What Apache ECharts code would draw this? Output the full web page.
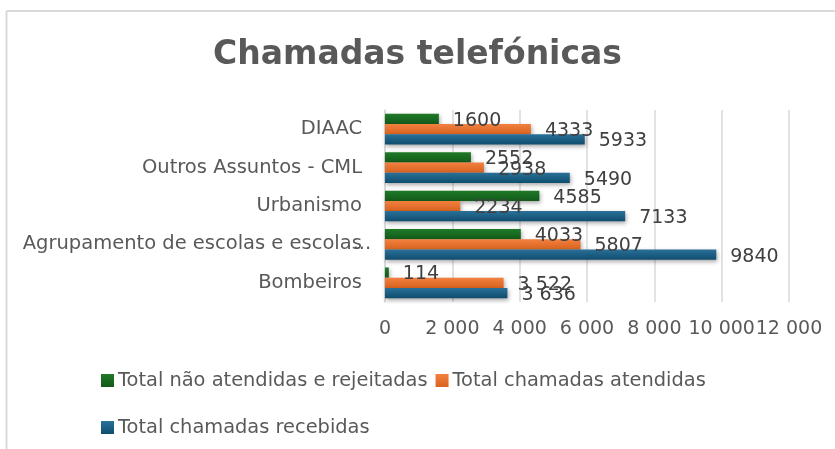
<!DOCTYPE html>
<html>
<head>
<meta charset="utf-8">
<script src="https://cdn.jsdelivr.net/npm/echarts@6/dist/echarts.min.js"></script>
<style>
html,body{margin:0;padding:0;background:#fff;}
#c{width:835px;height:449px;}
</style>
</head>
<body>
<div id="c"></div>
<script>
const categories = ['Bombeiros', 'Agrupamento de escolas e escolas...', 'Urbanismo', 'Outros Assuntos - CML', 'DIAAC'];
const naoAtendidas = [114, 4033, 4585, 2552, 1600];
const atendidas = [3522, 5807, 2234, 2938, 4333];
const recebidas = [3636, 9840, 7133, 5490, 5933];
const seriesNames = ['Total não atendidas e rejeitadas', 'Total chamadas atendidas', 'Total chamadas recebidas'];
const xTicks = { min: 0, max: 12000, interval: 2000 };

const FONT = 'DejaVu Sans';
const chart = echarts.init(document.getElementById('c'));

function grad(top, bottom) {
  return new echarts.graphic.LinearGradient(0, 0, 0, 1, [
    { offset: 0, color: top }, { offset: 1, color: bottom }
  ]);
}
function spaced(v) { return String(v).replace(/\B(?=(\d{3})+(?!\d))/g, ' '); }

function mk(name, data, top, bottom) {
  return {
    name: name, type: 'bar', data: data,
    barGap: '0%', barCategoryGap: '20%',
    itemStyle: { color: grad(top, bottom), shadowBlur: 4, shadowOffsetY: 2, shadowOffsetX: 1, shadowColor: 'rgba(0,0,0,0.35)' },
    label: {
      show: true, position: 'right', distance: 14, offset: [0, 2],
      fontFamily: FONT, fontSize: 19, color: '#404040',
      formatter: p => p.dataIndex === 0 ? spaced(p.value) : String(p.value)
    }
  };
}

chart.setOption({
  animation: false,
  title: {
    text: 'Chamadas telefónicas', left: 'center', top: 34,
    textStyle: { fontFamily: FONT, fontSize: 33, fontWeight: 'bold', color: '#595959' }
  },
  color: ['#196B24', '#E97132', '#156082'],
  legend: [
    { data: [seriesNames[0], seriesNames[1]], left: 101, top: 371, padding: 0, icon: 'rect', itemWidth: 13, itemHeight: 13, itemGap: 8,
      textStyle: { fontFamily: FONT, fontSize: 19.4, color: '#595959', padding: [0, 0, 0, -1] } },
    { data: [seriesNames[2]], left: 101, top: 418, padding: 0, icon: 'rect', itemWidth: 13, itemHeight: 13, itemGap: 8,
      textStyle: { fontFamily: FONT, fontSize: 19.4, color: '#595959', padding: [0, 0, 0, -1] } }
  ],
  grid: { left: 385, right: 46, top: 110, bottom: 147, containLabel: false },
  xAxis: {
    type: 'value', min: xTicks.min, max: xTicks.max, interval: xTicks.interval,
    axisLine: { show: false }, axisTick: { show: false },
    splitLine: { lineStyle: { color: '#d9d9d9', width: 1.5 } },
    axisLabel: { fontFamily: FONT, fontSize: 19, color: '#595959', margin: 18, formatter: v => spaced(v) }
  },
  yAxis: {
    type: 'category', data: categories,
    axisLine: { show: true, lineStyle: { color: '#d9d9d9', width: 1.5 } },
    axisTick: { show: false },
    axisLabel: {
      fontFamily: FONT, fontSize: 19.5, color: '#595959', margin: 23,
      formatter: v => v.endsWith('...') ? '{a|' + v.slice(0, -3) + '}{d|...}' : v,
      rich: {
        a: { fontFamily: FONT, fontSize: 19.5, color: '#595959' },
        d: { fontFamily: FONT, fontSize: 19.5, color: '#595959', width: 0.1, align: 'left' }
      }
    }
  },
  graphic: [
    { type: 'line', shape: { x1: 6.5, y1: 11, x2: 835, y2: 11 }, style: { stroke: '#d9d9d9', lineWidth: 2 } },
    { type: 'line', shape: { x1: 6.5, y1: 11, x2: 6.5, y2: 449 }, style: { stroke: '#d9d9d9', lineWidth: 2 } }
  ],
  series: [
    mk(seriesNames[0], naoAtendidas, '#1f7a27', '#125a1a'),
    mk(seriesNames[1], atendidas, '#f2803f', '#d9631f'),
    mk(seriesNames[2], recebidas, '#2a7099', '#0f4d6e')
  ]
});
</script>
</body>
</html>
